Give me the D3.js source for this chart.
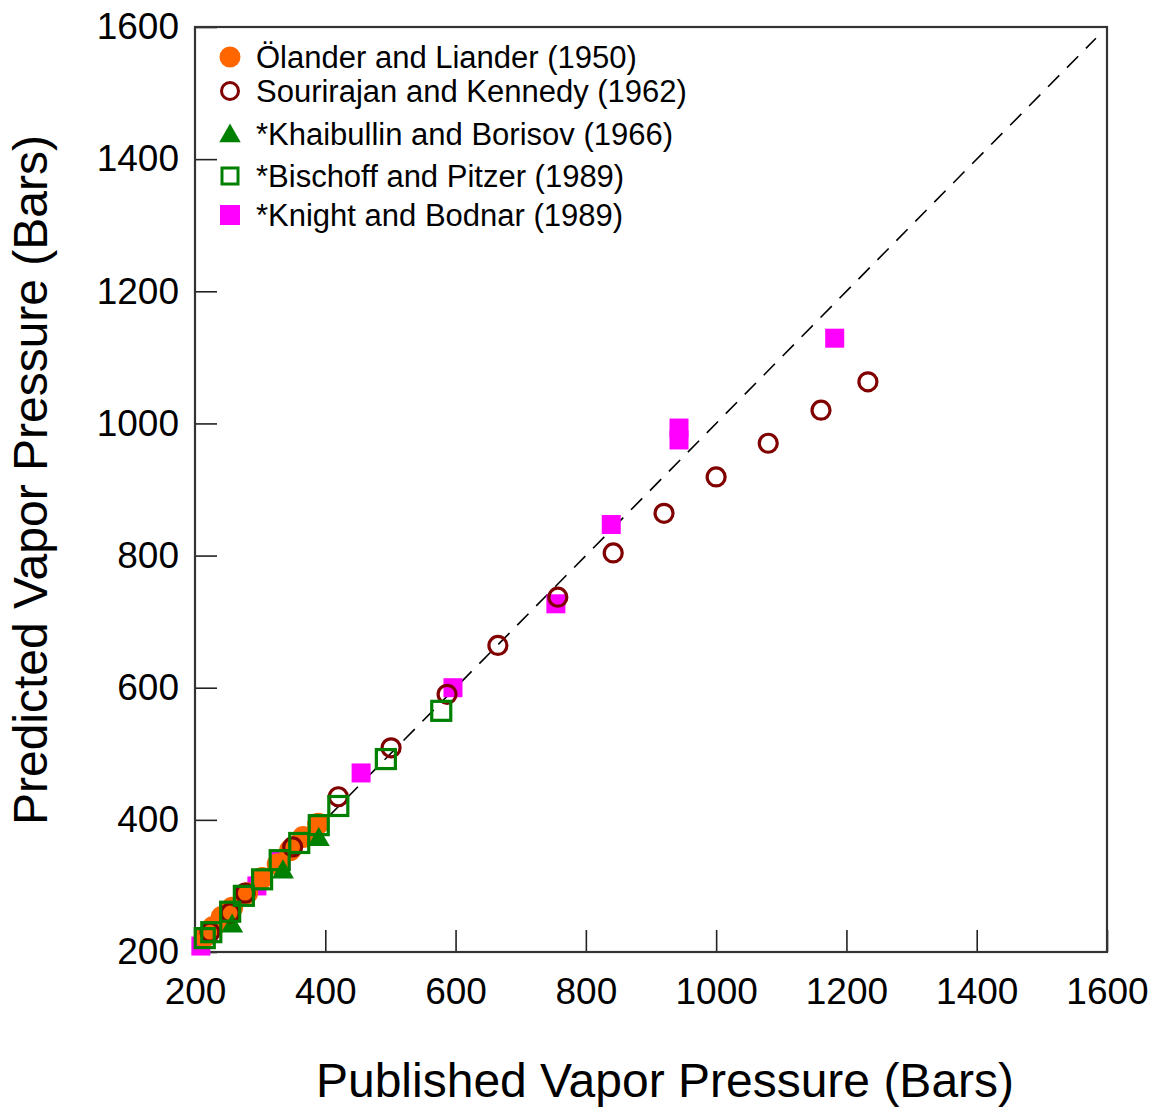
<!DOCTYPE html>
<html>
<head>
<meta charset="utf-8">
<script src="https://cdn.jsdelivr.net/npm/d3@7"></script>
<style>
  body { margin: 0; background: #fff; }
  text { font-family: "Liberation Sans", Arial, sans-serif; }
</style>
</head>
<body>
<div id="chart"></div>
<script>
// data: [published, predicted]
const olander = [[389,394],[366,374],[346,354],[327,333],[303,312],[280,289],[257,267],[241,253],[228,238],[215,223]];
const sourirajan = [[1233,1063],[1161,1020],[1080,970],[1000,919],[920,864],[842,804],[757,737],[665,664],
  [587,590],[501,509],[420,435],[350,359],[277,289],[254,259],[223,230]];
const khaibullin = [[390,370],[335,321],[257,239]];
const bischoff = [[578,565],[493,492],[420,421],[390,392],[360,365],[330,339],[303,310],[275,285],[254,261],[225,230],[215,221]];
const knight = [[1182,1129],[943,993],[943,975],[839,847],[754,727],[596,600],[455,471],[332,338],[295,300],[209,209]];

const ticks = [200,400,600,800,1000,1200,1400,1600];
const legendNames = ["Ölander and Liander (1950)", "Sourirajan and Kennedy (1962)",
  "*Khaibullin and Borisov (1966)", "*Bischoff and Pitzer (1989)", "*Knight and Bodnar (1989)"];

const W = 1159, H = 1109;
const conf = {left: 195, right: 1107, top: 27, bottom: 952};

const svg = d3.select("#chart").append("svg")
    .attr("width", W).attr("height", H);

const x = d3.scaleLinear().domain([200,1600]).range([conf.left, conf.right]);
const y = d3.scaleLinear().domain([200,1600]).range([conf.bottom, conf.top]);

// dashed 1:1 line
svg.append("line")
    .attr("x1", x(200)).attr("y1", y(200))
    .attr("x2", x(1583)).attr("y2", y(1583))
    .attr("stroke", "#000").attr("stroke-width", 1.6)
    .attr("stroke-dasharray", "16,11");

// axes with inward ticks
const fmt = d3.format("d");
const xAxis = svg.append("g")
    .attr("transform", `translate(0,${conf.bottom})`)
    .call(d3.axisBottom(x).tickValues(ticks).tickFormat(fmt).tickSizeInner(-22).tickSizeOuter(0).tickPadding(26));
const yAxis = svg.append("g")
    .attr("transform", `translate(${conf.left},0)`)
    .call(d3.axisLeft(y).tickValues(ticks).tickFormat(fmt).tickSizeInner(-22).tickSizeOuter(0).tickPadding(16));

[xAxis, yAxis].forEach(g => {
  g.select(".domain").remove();
  g.selectAll(".tick line").attr("stroke", "#222").attr("stroke-width", 1.6);
  g.selectAll(".tick text").attr("fill", "#000").style("font-size", "37px")
    .style("font-family", "'Liberation Sans', Arial, sans-serif");
});
xAxis.selectAll(".tick text").attr("dy", "0.71em");

// frame
svg.append("rect")
    .attr("x", conf.left).attr("y", conf.top)
    .attr("width", conf.right - conf.left).attr("height", conf.bottom - conf.top)
    .attr("fill", "none").attr("stroke", "#333").attr("stroke-width", 2.2);

const sq = (g, data, s, fill, stroke, sw) => g.selectAll(null).data(data).enter().append("rect")
    .attr("x", d => x(d[0]) - s/2).attr("y", d => y(d[1]) - s/2)
    .attr("width", s).attr("height", s)
    .attr("fill", fill).attr("stroke", stroke).attr("stroke-width", sw);

const marks = svg.append("g");
// Knight and Bodnar
sq(marks.append("g"), knight, 19, "#ff00ff", "none", 0);
// Ölander and Liander
marks.append("g").selectAll("circle").data(olander).enter().append("circle")
    .attr("cx", d => x(d[0])).attr("cy", d => y(d[1])).attr("r", 11)
    .attr("fill", "#ff6600");
// Khaibullin and Borisov
marks.append("g").selectAll("path").data(khaibullin).enter().append("path")
    .attr("d", d3.symbol().type(d3.symbolTriangle).size(210))
    .attr("transform", d => `translate(${x(d[0])},${y(d[1])})`)
    .attr("fill", "#008000");
// Sourirajan and Kennedy
marks.append("g").selectAll("circle").data(sourirajan).enter().append("circle")
    .attr("cx", d => x(d[0])).attr("cy", d => y(d[1])).attr("r", 9)
    .attr("fill", "none").attr("stroke", "#800000").attr("stroke-width", 3.2);
// Bischoff and Pitzer
sq(marks.append("g"), bischoff, 19, "none", "#008000", 3.2);

// legend
const leg = svg.append("g");
const ly = [57, 91, 134, 176, 215];
leg.append("circle").attr("cx", 230).attr("cy", ly[0]).attr("r", 10.5).attr("fill", "#ff6600");
leg.append("circle").attr("cx", 230).attr("cy", ly[1]).attr("r", 8.5).attr("fill", "none")
    .attr("stroke", "#800000").attr("stroke-width", 3);
leg.append("path").attr("d", d3.symbol().type(d3.symbolTriangle).size(200))
    .attr("transform", `translate(230,${ly[2] + 2})`).attr("fill", "#008000");
leg.append("rect").attr("x", 222).attr("y", ly[3] - 8).attr("width", 16).attr("height", 16)
    .attr("fill", "none").attr("stroke", "#008000").attr("stroke-width", 3);
leg.append("rect").attr("x", 220).attr("y", ly[4] - 10).attr("width", 20).attr("height", 20)
    .attr("fill", "#ff00ff");
leg.selectAll("text").data(legendNames).enter().append("text")
    .attr("x", 256).attr("y", (d, i) => ly[i]).attr("dy", "0.36em")
    .style("font-size", "31px").text(d => d);

// axis titles
svg.append("text").attr("x", 665).attr("y", 1097).attr("text-anchor", "middle")
    .style("font-size", "48px").text("Published Vapor Pressure (Bars)");
svg.append("text").attr("transform", "translate(47,480) rotate(-90)").attr("text-anchor", "middle")
    .style("font-size", "48px").text("Predicted Vapor Pressure (Bars)");
</script>
</body>
</html>
